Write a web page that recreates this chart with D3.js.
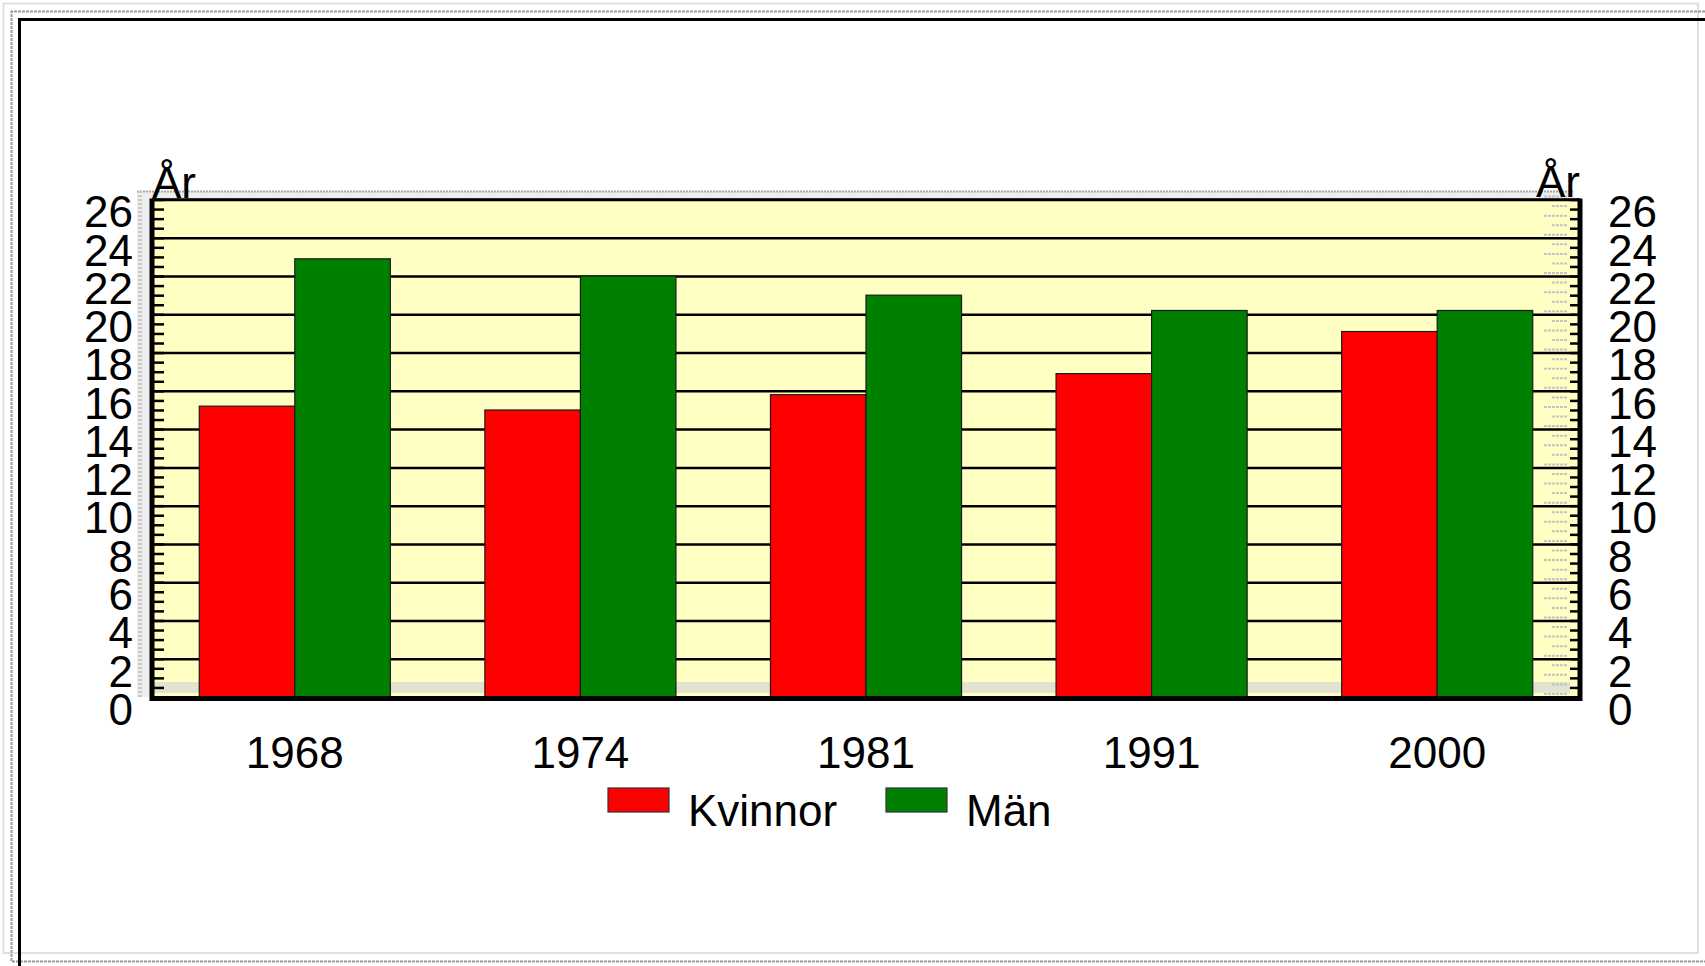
<!DOCTYPE html>
<html>
<head>
<meta charset="utf-8">
<script src="https://cdn.jsdelivr.net/npm/d3@7"></script>
<style>
  body { margin: 0; background: #fff; }
  svg { display: block; font-family: "Liberation Sans", Arial, sans-serif; }
</style>
</head>
<body>
<div id="chart"></div>
<script>
const years = ['1968', '1974', '1981', '1991', '2000'];
const seriesNames = ['Kvinnor', 'Män'];
const seriesColors = ['#ff0000', '#008000'];
const kvinnor = [15.2, 15.0, 15.8, 16.9, 19.1];
const man = [22.9, 22.0, 21.0, 20.2, 20.2];
const yTicks = [0, 2, 4, 6, 8, 10, 12, 14, 16, 18, 20, 22, 24, 26];
const unitLabel = 'År';

const width = 1705;
const height = 966;
const plot = { left: 152, right: 1580, top: 199.5, bottom: 697 };
const fontSize = 44;

const svg = d3.select('#chart').append('svg')
  .attr('width', width)
  .attr('height', height);

// frame lines
svg.append('rect')
  .attr('x', 3.5).attr('y', 3.5)
  .attr('width', 1694.5).attr('height', 949.5)
  .attr('fill', 'none').attr('stroke', '#e0e0e0').attr('stroke-width', 2);
svg.append('path')
  .attr('d', `M${width},11.5 H11.5 V961.5 H${width}`)
  .attr('fill', 'none').attr('stroke', '#9a9a9a').attr('stroke-width', 2)
  .attr('stroke-dasharray', '3 1');
svg.append('path')
  .attr('d', `M${width},19.5 H19.5 V${height}`)
  .attr('fill', 'none').attr('stroke', '#000').attr('stroke-width', 3);

const y = d3.scaleLinear().domain([0, 26]).range([plot.bottom, plot.top]);
const x0 = d3.scaleBand().domain(years)
  .range([plot.left, plot.right])
  .paddingInner(0.331).paddingOuter(0.1655);
const x1 = d3.scaleBand().domain(seriesNames).range([0, x0.bandwidth()]);
const color = d3.scaleOrdinal().domain(seriesNames).range(seriesColors);

const minorTicks = d3.range(0, 26.01, 0.5);

// 3d-ish back wall shadow
const shadow = svg.append('g').attr('class', 'shadow');
shadow.append('rect')
  .attr('x', 137).attr('y', 191)
  .attr('width', plot.right - 137 - 6).attr('height', plot.bottom - 191)
  .attr('fill', '#eeeeee');
shadow.append('line')
  .attr('x1', 137).attr('x2', plot.right - 6)
  .attr('y1', 191.5).attr('y2', 191.5)
  .attr('stroke', '#a8a8a8').attr('stroke-width', 2)
  .attr('stroke-dasharray', '2 1');
shadow.append('line')
  .attr('x1', 140).attr('x2', 140)
  .attr('y1', 191).attr('y2', plot.bottom)
  .attr('stroke', '#c8c8c8').attr('stroke-width', 4)
  .attr('stroke-dasharray', '2 2');

// plot background
svg.append('rect')
  .attr('x', plot.left).attr('y', plot.top)
  .attr('width', plot.right - plot.left).attr('height', plot.bottom - plot.top)
  .attr('fill', '#ffffc4');

// floor band
svg.append('rect')
  .attr('x', plot.left).attr('y', plot.bottom - 15)
  .attr('width', plot.right - plot.left - 10).attr('height', 11)
  .attr('fill', '#d6d6d6').attr('opacity', 0.7);

// right side shadow ticks
svg.append('g').selectAll('line')
  .data(minorTicks)
  .join('line')
  .attr('x1', (d, i) => plot.right - (i % 2 ? 28 : 36))
  .attr('x2', plot.right - 12)
  .attr('y1', d => y(d) - 3)
  .attr('y2', d => y(d) - 3)
  .attr('stroke', '#c4c4c4').attr('stroke-width', 2)
  .attr('stroke-dasharray', '3 1');

// gridlines
svg.append('g')
  .attr('class', 'grid')
  .attr('transform', `translate(${plot.left},0)`)
  .call(d3.axisLeft(y).tickValues(yTicks.slice(1)).tickSize(-(plot.right - plot.left)).tickFormat(''))
  .call(g => g.select('.domain').remove())
  .call(g => g.selectAll('line').attr('stroke', '#000').attr('stroke-width', 2.5));

// minor ticks left and right
svg.append('g')
  .attr('transform', `translate(${plot.left},0)`)
  .call(d3.axisLeft(y).tickValues(minorTicks).tickSize(-12).tickFormat(''))
  .call(g => g.select('.domain').remove())
  .call(g => g.selectAll('line').attr('stroke', '#000').attr('stroke-width', 2.5));
svg.append('g')
  .attr('transform', `translate(${plot.right},0)`)
  .call(d3.axisRight(y).tickValues(minorTicks).tickSize(-10).tickFormat(''))
  .call(g => g.select('.domain').remove())
  .call(g => g.selectAll('line').attr('stroke', '#000').attr('stroke-width', 2.5));

// bars
const rows = years.map((yr, i) => ({ year: yr, values: [kvinnor[i], man[i]] }));
svg.append('g')
  .selectAll('g')
  .data(rows)
  .join('g')
  .attr('transform', d => `translate(${x0(d.year)},0)`)
  .selectAll('rect')
  .data(d => d.values.map((v, j) => ({ key: seriesNames[j], value: v })))
  .join('rect')
  .attr('x', d => x1(d.key))
  .attr('y', d => y(d.value))
  .attr('width', x1.bandwidth())
  .attr('height', d => y(0) - y(d.value))
  .attr('fill', d => color(d.key))
  .attr('stroke', '#1a1a1a').attr('stroke-width', 1.2);

// axis frame lines
svg.append('line')
  .attr('x1', plot.left).attr('x2', plot.right)
  .attr('y1', plot.top).attr('y2', plot.top)
  .attr('stroke', '#000').attr('stroke-width', 2.5);
svg.append('line')
  .attr('x1', plot.left).attr('x2', plot.left)
  .attr('y1', plot.top - 1).attr('y2', plot.bottom + 4)
  .attr('stroke', '#000').attr('stroke-width', 5);
svg.append('line')
  .attr('x1', plot.right).attr('x2', plot.right)
  .attr('y1', plot.top - 1).attr('y2', plot.bottom + 4)
  .attr('stroke', '#000').attr('stroke-width', 5);
svg.append('line')
  .attr('x1', plot.left - 2).attr('x2', plot.right + 2)
  .attr('y1', plot.bottom + 1.5).attr('y2', plot.bottom + 1.5)
  .attr('stroke', '#000').attr('stroke-width', 5);

// tick labels
const styleLabels = g => g.selectAll('text')
  .attr('font-size', fontSize)
  .attr('font-family', '"Liberation Sans", Arial, sans-serif')
  .attr('fill', '#000');

svg.append('g')
  .attr('transform', `translate(${plot.left},0)`)
  .call(d3.axisLeft(y).tickValues(yTicks).tickSize(0).tickPadding(19))
  .call(g => g.select('.domain').remove())
  .call(styleLabels)
  .call(g => g.selectAll('text').attr('dy', '0.62em'));

svg.append('g')
  .attr('transform', `translate(${plot.right},0)`)
  .call(d3.axisRight(y).tickValues(yTicks).tickSize(0).tickPadding(28))
  .call(g => g.select('.domain').remove())
  .call(styleLabels)
  .call(g => g.selectAll('text').attr('dy', '0.62em'));

svg.append('g')
  .attr('transform', `translate(0,${plot.bottom})`)
  .call(d3.axisBottom(x0).tickSize(0))
  .call(g => g.select('.domain').remove())
  .call(styleLabels)
  .call(g => g.selectAll('text').attr('y', 71).attr('dy', 0));

// unit labels
svg.append('text')
  .attr('x', plot.left).attr('y', 198)
  .attr('font-size', fontSize)
  .text(unitLabel);
svg.append('text')
  .attr('x', plot.right).attr('y', 197)
  .attr('text-anchor', 'end')
  .attr('font-size', fontSize)
  .text(unitLabel);

// legend
const legendX = [608, 886];
const legend = svg.append('g')
  .selectAll('g')
  .data(seriesNames)
  .join('g')
  .attr('transform', (d, i) => `translate(${legendX[i]},788)`);
legend.append('rect')
  .attr('width', 61).attr('height', 24)
  .attr('fill', d => color(d))
  .attr('stroke', '#333').attr('stroke-width', 1.2);
legend.append('text')
  .attr('x', 80).attr('y', 38)
  .attr('font-size', fontSize)
  .text(d => d);
</script>
</body>
</html>
